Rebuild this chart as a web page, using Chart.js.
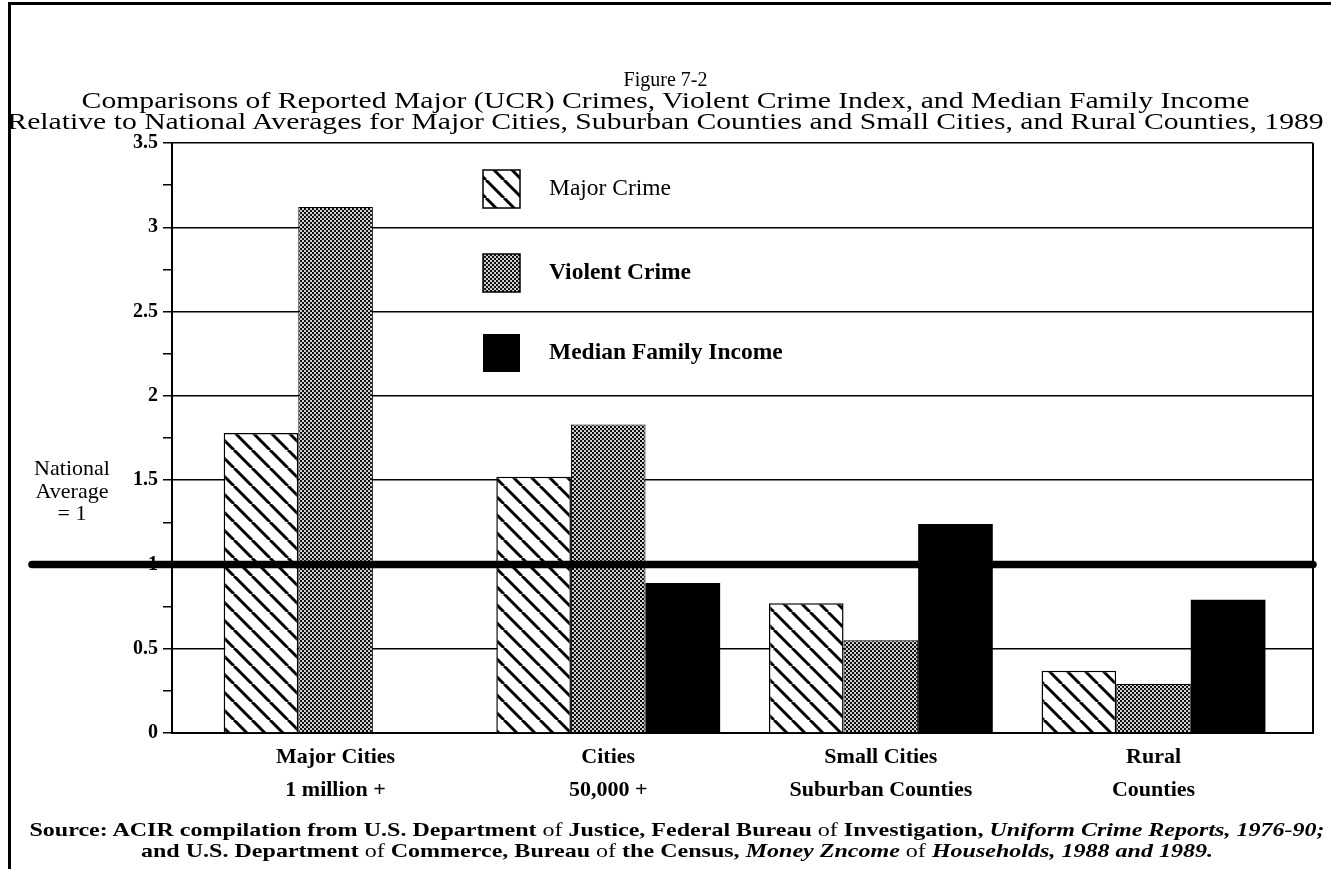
<!DOCTYPE html>
<html><head><meta charset="utf-8">
<script src="https://cdn.jsdelivr.net/npm/chart.js@4.4.1/dist/chart.umd.min.js"></script>
<style>
html,body{margin:0;padding:0;background:#fff;overflow:hidden;width:1331px;height:869px;}
#wrap{position:absolute;left:0;top:0;width:1331px;height:869px;}
#frame{position:absolute;left:8px;top:2px;width:1340px;height:880px;border-left:3px solid #000;border-top:3px solid #000;pointer-events:none;}
.txt{position:absolute;text-align:center;font-family:"Liberation Serif","Times New Roman",serif;color:#000;white-space:nowrap;transform-origin:50% 50%;}
#fig{left:0;top:68px;width:1331px;font-size:20px;line-height:22px;}
#sub{left:0;top:90px;width:1331px;font-size:23px;line-height:21px;transform:scaleX(1.29);}
#source{left:0;top:819px;width:1354px;font-weight:bold;font-size:19px;line-height:21px;transform:scaleX(1.265);}
#source .r{font-weight:normal}
</style></head><body>
<div id="wrap"><canvas id="c" width="1331" height="869"></canvas></div>
<div id="frame"></div>
<div id="fig" class="txt"></div>
<div id="sub" class="txt"></div>
<div id="source" class="txt">Source: ACIR compilation from U.S. Department <span class="r">of</span> Justice, Federal Bureau <span class="r">of</span> Investigation, <i>Uniform Crime Reports, 1976-90;</i><br>and U.S. Department <span class="r">of</span> Commerce, Bureau <span class="r">of</span> the Census, <i>Money Zncome</i> <span class="r">of</span> <i>Households, 1988 and 1989.</i></div>
<script>
// ---- data ----
const categories = [["Major Cities", "1 million +"], ["Cities", "50,000 +"], ["Small Cities", "Suburban Counties"], ["Rural", "Counties"]];
const seriesNames = ["Major Crime", "Violent Crime", "Median Family Income"];
const majorCrime = [1.78, 1.52, 0.77, 0.37];
const violentCrime = [3.12, 1.83, 0.55, 0.29];
const medianIncome = [null, 0.89, 1.24, 0.79];
const yTickLabels = [0, 0.5, 1, 1.5, 2, 2.5, 3, 3.5];
const nationalAverage = 1;
const nationalLabel = ["National", "Average", "= 1"];
const titleText = "Figure 7-2";
const subtitleLines = [
  "Comparisons of Reported Major (UCR) Crimes, Violent Crime Index, and Median Family Income",
  "Relative to National Averages for Major Cities, Suburban Counties and Small Cities, and Rural Counties, 1989"
];

document.getElementById('fig').textContent = titleText;
document.getElementById('sub').innerHTML = subtitleLines.map(s => s.replace(/&/g, '&amp;')).join('<br>');

// ---- patterns ----
function hatchPattern() {
  const s = 18, c = document.createElement('canvas');
  c.width = c.height = s;
  const g = c.getContext('2d');
  g.fillStyle = '#fff'; g.fillRect(0, 0, s, s);
  g.strokeStyle = '#000'; g.lineWidth = 3;
  g.beginPath();
  for (const o of [-s, 0, s]) { g.moveTo(o, 0); g.lineTo(o + s, s); }
  g.stroke();
  return g.createPattern(c, 'repeat');
}
function dotPattern() {
  const c = document.createElement('canvas');
  c.width = c.height = 4;
  const g = c.getContext('2d');
  g.fillStyle = '#d0d0d0'; g.fillRect(0, 0, 4, 4);
  g.fillStyle = '#111'; g.fillRect(0, 0, 2, 2); g.fillRect(2, 2, 2, 2);
  return g.createPattern(c, 'repeat');
}

const SERIF = '"Liberation Serif", "Times New Roman", serif';

const legendPlugin = {
  id: 'inLegend',
  afterDraw(chart) {
    const { ctx, chartArea: a } = chart;
    const bx = a.left + 311;
    const offs = [27, 111, 191];
    chart.data.datasets.forEach((ds, i) => {
      const y = a.top + offs[i];
      ctx.save();
      ctx.fillStyle = ds.backgroundColor;
      ctx.fillRect(bx, y, 37, 38);
      if (ds.borderWidth) { ctx.lineWidth = 1.5; ctx.strokeStyle = '#000'; ctx.strokeRect(bx, y, 37, 38); }
      ctx.fillStyle = '#000';
      ctx.font = (i === 0 ? '' : 'bold ') + '23.5px ' + SERIF;
      ctx.textBaseline = 'middle';
      ctx.textAlign = 'left';
      ctx.fillText(ds.label, a.left + 377, y + 19);
      ctx.restore();
    });
  }
};

const natPlugin = {
  id: 'natAvg',
  afterDatasetsDraw(chart) {
    const { ctx, chartArea: a, scales: { y } } = chart;
    const py = y.getPixelForValue(nationalAverage);
    ctx.save();
    ctx.strokeStyle = '#000';
    ctx.lineWidth = 7.5; ctx.lineCap = 'round';
    ctx.beginPath(); ctx.moveTo(32, py); ctx.lineTo(a.right, py); ctx.stroke();
    ctx.font = '22px ' + SERIF;
    ctx.fillStyle = '#000'; ctx.textAlign = 'center'; ctx.textBaseline = 'middle';
    nationalLabel.forEach((t, i) => ctx.fillText(t, 72, py - 95 + i * 22.5));
    ctx.lineWidth = 2; ctx.lineCap = 'butt';
    ctx.beginPath(); ctx.moveTo(a.right, a.top); ctx.lineTo(a.right, a.bottom); ctx.stroke();
    ctx.restore();
  }
};

const toPts = arr => arr.map((v, i) => ({ x: i, y: v }));

new Chart(document.getElementById('c').getContext('2d'), {
  type: 'bar',
  data: {
    datasets: [
      { label: seriesNames[0], data: toPts(majorCrime), backgroundColor: hatchPattern(), borderColor: '#000', borderWidth: 1.5 },
      { label: seriesNames[1], data: toPts(violentCrime), backgroundColor: dotPattern(), borderColor: '#000', borderWidth: 1 },
      { label: seriesNames[2], data: toPts(medianIncome), backgroundColor: '#000', borderWidth: 0 }
    ]
  },
  options: {
    responsive: false,
    animation: false,
    datasets: { bar: { categoryPercentage: 0.821, barPercentage: 1.0 } },
    layout: { padding: { left: 0, right: 18, top: 143, bottom: 0 } },
    plugins: {
      legend: { display: false },
      tooltip: { enabled: false },
      title: { display: false },
      subtitle: { display: false }
    },
    scales: {
      x: {
        type: 'linear', min: -0.6, max: 3.585, offset: false, bounds: 'data',
        grid: { display: false, offset: false },
        border: { display: true, color: '#000', width: 2 },
        afterBuildTicks(ax) { ax.ticks = categories.map((c, i) => ({ value: i })); },
        afterFit(ax) { ax.height = 136; },
        ticks: { callback: v => categories[v], color: '#000', autoSkip: false, maxRotation: 0, padding: 0,
          font: { family: SERIF, size: 22, weight: 'bold', lineHeight: '33px' } }
      },
      y: {
        min: 0, max: 3.5,
        afterFit(ax) { ax.width = 172; },
        ticks: { stepSize: 0.25, autoSkip: false, padding: 5, color: '#000',
          callback: v => yTickLabels.includes(v) ? String(v) : '',
          font: { family: SERIF, size: 20, weight: 'bold' } },
        grid: { color: c => yTickLabels.includes(c.tick.value) ? '#000' : 'rgba(0,0,0,0)', tickColor: '#000', tickLength: 9, lineWidth: 1.5 },
        border: { display: true, color: '#000', width: 2 }
      }
    }
  },
  plugins: [legendPlugin, natPlugin]
});
</script>
</body></html>
